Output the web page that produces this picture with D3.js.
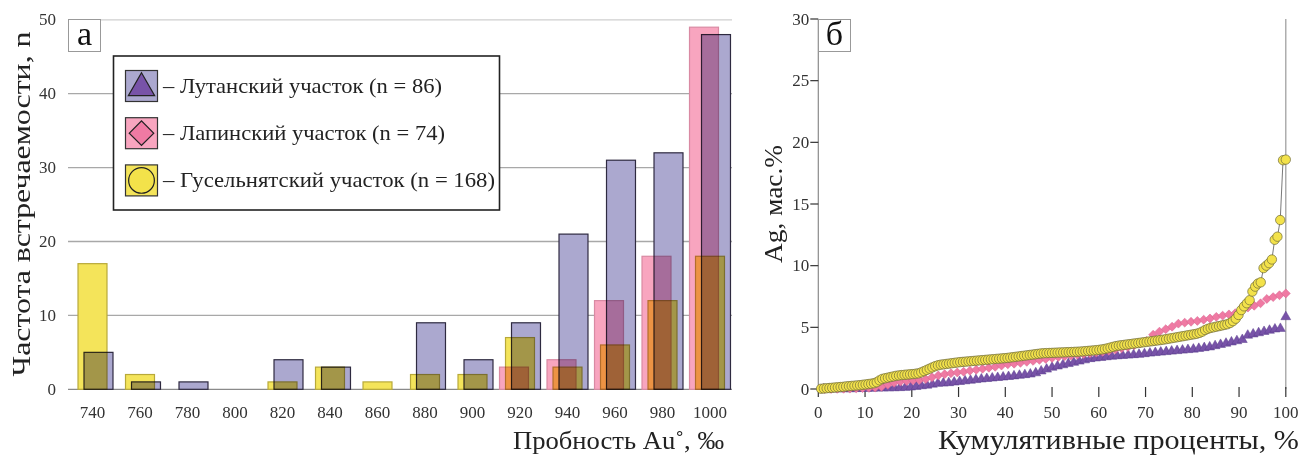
<!DOCTYPE html>
<html><head><meta charset="utf-8">
<script src="https://cdn.jsdelivr.net/npm/d3@7"></script>
<style>
html,body{margin:0;padding:0;background:#fff;}
svg{display:block;font-family:"Liberation Serif","Times New Roman",serif;}
</style></head>
<body>
<svg id="chart" width="1316" height="457"></svg>
<script>
// ---------- Panel а data ----------
const categories = ["740","760","780","800","820","840","860","880","900","920","940","960","980","1000"];
const lutanskyCounts   = [5,1,1,0,4,3,0,9,4,9,21,31,32,48];
const lapinskyCounts   = [0,0,0,0,0,0,0,0,0,3,4,12,18,49];
const guselnyatCounts  = [17,2,0,0,1,3,1,2,2,7,3,6,12,18];
const yTicksA = [0,10,20,30,40,50];
const legendLabels = ["– Лутанский участок (n = 86)","– Лапинский участок (n = 74)","– Гусельнятский участок (n = 168)"];

// ---------- Panel б data (sorted Ag, mass %) ----------
const lutanskyAg = [
0.00,0.00,0.00,0.00,0.00,0.01,0.02,0.03,0.04,0.05,
0.06,0.07,0.08,0.09,0.10,0.12,0.15,0.20,0.25,0.30,
0.38,0.45,0.47,0.50,0.55,0.60,0.65,0.70,0.75,0.80,
0.84,0.88,0.92,0.96,1.00,1.05,1.10,1.15,1.20,1.30,
1.45,1.60,1.75,1.85,1.95,2.05,2.15,2.25,2.35,2.45,
2.50,2.55,2.60,2.65,2.68,2.71,2.74,2.77,2.80,2.85,
2.90,2.94,2.98,3.02,3.06,3.10,3.14,3.18,3.22,3.28,
3.34,3.40,3.50,3.60,3.70,3.80,3.90,4.00,4.35,4.45,
4.55,4.65,4.75,4.85,4.90,5.85];
const lapinskyAg = [
0.00,0.00,0.01,0.02,0.03,0.05,0.07,0.09,0.12,0.18,
0.35,0.50,0.60,0.65,0.70,0.73,0.80,0.95,1.10,1.20,
1.28,1.34,1.40,1.48,1.56,1.64,1.72,1.80,1.90,2.00,
2.05,2.12,2.20,2.28,2.36,2.44,2.52,2.60,2.66,2.72,
2.78,2.84,2.90,2.96,3.02,3.10,3.20,3.30,3.40,3.55,
3.70,3.90,4.40,4.65,4.85,5.05,5.30,5.38,5.45,5.52,
5.62,5.72,5.85,5.95,6.05,6.15,6.40,6.60,6.75,6.95,
7.30,7.45,7.60,7.75];
const guselnyatAg = [
0.02,0.04,0.06,0.08,0.10,0.12,0.14,0.16,0.18,0.21,
0.23,0.25,0.27,0.29,0.31,0.34,0.37,0.40,0.43,0.47,
0.55,0.70,0.82,0.87,0.92,0.97,1.02,1.07,1.10,1.13,
1.15,1.17,1.19,1.21,1.24,1.27,1.35,1.45,1.55,1.65,
1.75,1.85,1.92,1.97,2.00,2.03,2.06,2.09,2.12,2.15,
2.18,2.20,2.22,2.24,2.26,2.28,2.30,2.32,2.34,2.36,
2.38,2.40,2.42,2.44,2.46,2.48,2.50,2.52,2.55,2.58,
2.61,2.64,2.67,2.70,2.73,2.76,2.79,2.82,2.85,2.88,
2.90,2.91,2.92,2.93,2.94,2.95,2.96,2.97,2.98,2.99,
3.00,3.01,3.02,3.03,3.05,3.07,3.09,3.11,3.13,3.15,
3.18,3.21,3.25,3.30,3.36,3.42,3.48,3.52,3.55,3.58,
3.61,3.64,3.67,3.70,3.73,3.76,3.79,3.82,3.85,3.88,
3.91,3.94,3.97,4.00,4.04,4.08,4.12,4.16,4.20,4.24,
4.28,4.32,4.36,4.40,4.44,4.48,4.55,4.65,4.78,4.88,
4.95,5.00,5.05,5.10,5.15,5.20,5.25,5.35,5.50,5.70,
6.00,6.40,6.70,6.95,7.20,7.90,8.30,8.55,8.65,9.80,
10.00,10.20,10.50,12.10,12.35,13.70,18.55,18.60];
const xTicksB = [0,10,20,30,40,50,60,70,80,90,100];
const yTicksB = [0,5,10,15,20,25,30];

// ---------- styles ----------
const C = {
  purpleBar:"#aba8cf", purpleStroke:"#2e2a40",
  pinkBar:"#f8a5bf", pinkStroke:"#d98aa3",
  yellowBar:"#f4e45a", yellowStroke:"#b8a93a",
  purpleMark:"#7853a8", pinkMark:"#ef7aa3", yellowMark:"#f3e24a"
};

const svg = d3.select("#chart");

// ================= PANEL а =================
const xA = d3.scaleBand().domain(categories).range([68.75, 733.75]).padding(0);
const yA = d3.scaleLinear().domain([0,50]).range([389.3, 19.8]);
const seriesA = [
  {key:"lut", vals:lutanskyCounts, fill:C.purpleBar, stroke:C.purpleStroke},
  {key:"lap", vals:lapinskyCounts, fill:C.pinkBar, stroke:C.pinkStroke},
  {key:"gus", vals:guselnyatCounts, fill:C.yellowBar, stroke:C.yellowStroke}
];
const offset = d3.scalePoint().domain(["lap","gus","lut"]).range([-6,6]);
const barW = xA.bandwidth()*0.61;

const gA = svg.append("g");
gA.selectAll("line.grid").data(yTicksA).join("line")
  .attr("x1",68).attr("x2",732)
  .attr("y1",d=>yA(d)).attr("y2",d=>yA(d))
  .attr("stroke",d=>d===50?"#cfcfcf":(d===0?"#8a8a8a":"#a8a8a8"))
  .attr("stroke-width",1.3);
gA.selectAll("text.yt").data(yTicksA).join("text")
  .attr("x",56).attr("y",d=>yA(d)).attr("dy","0.33em")
  .attr("text-anchor","end").attr("font-size",17).attr("fill","#333")
  .text(d=>d);
const barsG = gA.append("g").style("isolation","isolate");
seriesA.forEach(s=>{
  barsG.append("g").selectAll("rect").data(categories.map((c,i)=>({c,v:s.vals[i]})).filter(d=>d.v>0)).join("rect")
    .attr("x",d=>xA(d.c)+xA.bandwidth()/2+offset(s.key)-barW/2)
    .attr("width",barW)
    .attr("y",d=>yA(d.v))
    .attr("height",d=>yA(0)-yA(d.v))
    .attr("fill",s.fill).attr("stroke",s.stroke).attr("stroke-width",1.2)
    .style("mix-blend-mode","multiply");
});
gA.selectAll("text.xt").data(categories).join("text")
  .attr("x",d=>xA(d)+xA.bandwidth()/2).attr("y",418)
  .attr("text-anchor","middle").attr("font-size",17).attr("fill","#333")
  .text(d=>d);
gA.append("text").attr("transform","translate(30,204) rotate(-90)")
  .attr("text-anchor","middle").attr("font-size",25).attr("fill","#222")
  .attr("textLength",345).attr("lengthAdjust","spacingAndGlyphs")
  .text("Частота встречаемости, n");
gA.append("text").attr("x",724).attr("y",449).attr("text-anchor","end")
  .attr("font-size",26).attr("fill","#222")
  .attr("textLength",211).attr("lengthAdjust","spacingAndGlyphs")
  .text("Пробность Au˚, ‰");
gA.append("rect").attr("x",68.5).attr("y",19.5).attr("width",32).attr("height",32)
  .attr("fill","#fff").attr("stroke","#999").attr("stroke-width",1);
gA.append("text").attr("x",84.5).attr("y",45).attr("text-anchor","middle")
  .attr("font-size",34).attr("fill","#111").text("а");
// legend
const leg = gA.append("g");
leg.append("rect").attr("x",113.5).attr("y",56).attr("width",386).attr("height",154)
  .attr("fill","#fff").attr("stroke","#222").attr("stroke-width",1.6);
const legRows = [
  {fill:C.purpleBar, mark:d3.symbolTriangle, mfill:C.purpleMark, size:300, dy:2, rot:0, len:279},
  {fill:C.pinkBar, mark:d3.symbolSquare, mfill:C.pinkMark, size:300, dy:0, rot:45, len:282},
  {fill:C.yellowBar, mark:d3.symbolCircle, mfill:C.yellowMark, size:520, dy:0, rot:0, len:332}
];
legRows.forEach((r,i)=>{
  const cy = 86 + i*47.2;
  leg.append("rect").attr("x",125.5).attr("y",cy-15.5).attr("width",32).attr("height",31)
    .attr("fill",r.fill).attr("stroke","#333").attr("stroke-width",1.2);
  leg.append("path").attr("d",d3.symbol(r.mark,r.size)())
    .attr("transform",`translate(141.5,${cy+r.dy}) rotate(${r.rot})`)
    .attr("fill",r.mfill).attr("stroke","#222").attr("stroke-width",1.2);
  leg.append("text").attr("x",163).attr("y",cy+7).attr("font-size",22).attr("fill","#222")
    .attr("textLength",r.len).attr("lengthAdjust","spacingAndGlyphs")
    .text(legendLabels[i]);
});

// ================= PANEL б =================
const xB = d3.scaleLinear().domain([0,100]).range([818.3,1285.8]);
const yB = d3.scaleLinear().domain([0,30]).range([389,19]);
const gB = svg.append("g");
gB.append("line").attr("x1",xB(0)).attr("x2",xB(0)).attr("y1",yB(30)).attr("y2",yB(0))
  .attr("stroke","#8a8a8a").attr("stroke-width",1.2);
gB.append("line").attr("x1",xB(100)).attr("x2",xB(100)).attr("y1",yB(30)).attr("y2",yB(0))
  .attr("stroke","#9a9a9a").attr("stroke-width",1.2);
gB.selectAll("line.yt").data(yTicksB).join("line")
  .attr("x1",xB(0)-8).attr("x2",xB(0)).attr("y1",d=>yB(d)).attr("y2",d=>yB(d))
  .attr("stroke","#333").attr("stroke-width",1.2);
gB.selectAll("text.yt").data(yTicksB).join("text")
  .attr("x",xB(0)-9).attr("y",d=>yB(d)).attr("dy","0.33em")
  .attr("text-anchor","end").attr("font-size",17).attr("fill","#333").text(d=>d);
gB.selectAll("line.xt").data(xTicksB).join("line")
  .attr("x1",d=>xB(d)).attr("x2",d=>xB(d)).attr("y1",yB(0)-2).attr("y2",yB(0)+8)
  .attr("stroke","#333").attr("stroke-width",1.2);
gB.selectAll("text.xt").data(xTicksB).join("text")
  .attr("x",d=>xB(d)).attr("y",418).attr("text-anchor","middle")
  .attr("font-size",17).attr("fill","#333").text(d=>d);
gB.append("text").attr("transform","translate(782,204) rotate(-90)")
  .attr("text-anchor","middle").attr("font-size",25).attr("fill","#222")
  .attr("textLength",118).attr("lengthAdjust","spacingAndGlyphs")
  .text("Ag, мас.%");
gB.append("text").attr("x",1299).attr("y",449).attr("text-anchor","end")
  .attr("font-size",27).attr("fill","#222")
  .attr("textLength",361).attr("lengthAdjust","spacingAndGlyphs")
  .text("Кумулятивные проценты, %");
gB.append("rect").attr("x",818.5).attr("y",19.5).attr("width",32).attr("height",32)
  .attr("fill","#fff").attr("stroke","#999").attr("stroke-width",1);
gB.append("text").attr("x",834.5).attr("y",45).attr("text-anchor","middle")
  .attr("font-size",34).attr("fill","#111").text("б");

function cum(arr){ return arr.map((v,i)=>({p:(i+1)/arr.length*100, v})); }
const lutPts = cum(lutanskyAg), lapPts = cum(lapinskyAg), gusPts = cum(guselnyatAg);

gB.append("g").selectAll("path").data(lutPts).join("path")
  .attr("d",d3.symbol(d3.symbolTriangle,42)())
  .attr("transform",d=>`translate(${xB(d.p)},${yB(d.v)})`)
  .attr("fill",C.purpleMark).attr("stroke","#5b3f8c").attr("stroke-width",0.5);
gB.append("g").selectAll("path").data(lapPts).join("path")
  .attr("d",d3.symbol(d3.symbolSquare,40)())
  .attr("transform",d=>`translate(${xB(d.p)},${yB(d.v)}) rotate(45)`)
  .attr("fill",C.pinkMark).attr("stroke","#d7608c").attr("stroke-width",0.5);
gB.append("path").datum(gusPts)
  .attr("d",d3.line().x(d=>xB(d.p)).y(d=>yB(d.v)))
  .attr("fill","none").attr("stroke","#555").attr("stroke-width",0.8);
gB.append("g").selectAll("circle").data(gusPts).join("circle")
  .attr("cx",d=>xB(d.p)).attr("cy",d=>yB(d.v)).attr("r",4.7)
  .attr("fill",C.yellowMark).attr("stroke","#6f6a3a").attr("stroke-width",0.7);
</script>
</body></html>
